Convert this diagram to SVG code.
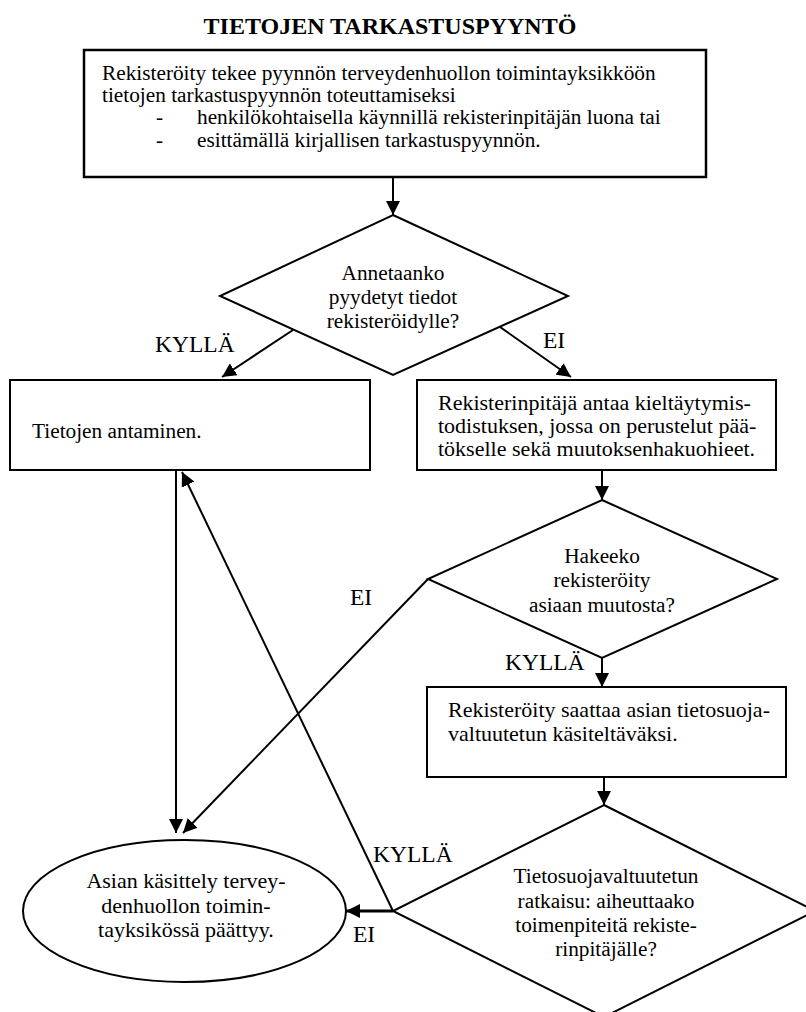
<svg xmlns="http://www.w3.org/2000/svg" width="806" height="1012" viewBox="0 0 806 1012">
  <style>
    .box { fill: #fff; stroke: #000; stroke-width: 2; }
    .shape { fill: #fff; stroke: #000; stroke-width: 2; }
    text { font-family: 'Liberation Serif', 'DejaVu Serif', serif; fill: #000; }
    .txt { font-size: 21.3px; }
    .med { font-size: 22px; }
    .mid { text-anchor: middle; }
    .lbl { font-size: 23.5px; }
    .title { font-size: 24px; font-weight: bold; text-anchor: middle; }
    .conn line { stroke: #000; stroke-width: 2; marker-end: url(#arrow); }
  </style>
  <defs>
    <marker id="arrow" viewBox="0 0 14 14" refX="14" refY="7" markerWidth="14" markerHeight="14" orient="auto" markerUnits="userSpaceOnUse">
      <path d="M0,0 L14,7 L0,14 Z" fill="#000"/>
    </marker>
  </defs>
  <rect width="806" height="1012" fill="#fff"/>

  <text class="title" x="390" y="34">TIETOJEN TARKASTUSPYYNTÖ</text>

  <!-- request box -->
  <g id="request">
    <rect class="box" x="84" y="50" width="622" height="127" style="stroke-width:2.5"/>
    <text class="txt" x="102" y="80">Rekisteröity tekee pyynnön terveydenhuollon toimintayksikköön</text>
    <text class="txt" x="102" y="102">tietojen tarkastuspyynnön toteuttamiseksi</text>
    <text class="txt" x="156" y="124">-</text>
    <text class="txt" x="197" y="124">henkilökohtaisella käynnillä rekisterinpitäjän luona tai</text>
    <text class="txt" x="156" y="147">-</text>
    <text class="txt" x="197" y="147">esittämällä kirjallisen tarkastuspyynnön.</text>
  </g>

  <!-- decision: give the data? -->
  <g id="decision-give">
    <polygon class="shape" points="393,215 568,296 393,375 220,296"/>
    <text class="txt mid" x="393" y="280">Annetaanko</text>
    <text class="txt mid" x="393" y="304">pyydetyt tiedot</text>
    <text class="txt mid" x="393" y="328">rekisteröidylle?</text>
  </g>

  <g id="give-data">
    <rect class="box" x="10" y="380" width="360" height="90"/>
    <text class="txt" x="32" y="438">Tietojen antaminen.</text>
  </g>

  <g id="refusal">
    <rect class="box" x="417" y="380" width="359" height="90"/>
    <text class="med" x="438" y="410">Rekisterinpitäjä antaa kieltäytymis-</text>
    <text class="med" x="438" y="433">todistuksen, jossa on perustelut pää-</text>
    <text class="med" x="438" y="456">tökselle sekä muutoksenhakuohieet.</text>
  </g>

  <g id="decision-appeal">
    <polygon class="shape" points="602,500 777,579 602,658 428,579"/>
    <text class="txt mid" x="602" y="563">Hakeeko</text>
    <text class="txt mid" x="602" y="587">rekisteröity</text>
    <text class="txt mid" x="602" y="612">asiaan muutosta?</text>
  </g>

  <g id="ombudsman">
    <rect class="box" x="427" y="687" width="359" height="90"/>
    <text class="med" x="448" y="717">Rekisteröity saattaa asian tietosuoja-</text>
    <text class="med" x="448" y="741">valtuutetun käsiteltäväksi.</text>
  </g>

  <g id="decision-ruling">
    <polygon class="shape" points="604,805 815,911 604,1017 393,911"/>
    <text class="txt mid" x="606" y="883">Tietosuojavaltuutetun</text>
    <text class="txt mid" x="606" y="908">ratkaisu: aiheuttaako</text>
    <text class="txt mid" x="606" y="932">toimenpiteitä rekiste-</text>
    <text class="txt mid" x="606" y="956">rinpitäjälle?</text>
  </g>

  <g id="end">
    <ellipse class="shape" cx="184.5" cy="911" rx="161.5" ry="71"/>
    <text class="med mid" x="186" y="888">Asian käsittely tervey-</text>
    <text class="med mid" x="186" y="913">denhuollon toimin-</text>
    <text class="med mid" x="186" y="937">tayksikössä päättyy.</text>
  </g>

  <!-- connectors -->
  <g id="connectors" class="conn">
    <line x1="393" y1="177" x2="393" y2="215"/>
    <line x1="293" y1="330" x2="222" y2="377"/>
    <line x1="500" y1="327" x2="571" y2="377"/>
    <line x1="602" y1="470" x2="602" y2="500"/>
    <line x1="602" y1="658" x2="602" y2="687"/>
    <line x1="604" y1="777" x2="604" y2="805"/>
    <line x1="428" y1="579" x2="183" y2="833"/>
    <line x1="176" y1="470" x2="176" y2="833"/>
    <line x1="393" y1="911" x2="182" y2="472"/>
    <line x1="393" y1="911" x2="346" y2="911" style="stroke-width:3"/>
  </g>

  <!-- branch labels -->
  <g id="labels">
    <text class="lbl" x="155" y="352">KYLLÄ</text>
    <text class="lbl" x="543" y="348">EI</text>
    <text class="lbl" x="350" y="605">EI</text>
    <text class="lbl" x="505" y="670">KYLLÄ</text>
    <text class="lbl" x="373" y="862">KYLLÄ</text>
    <text class="lbl" x="353" y="942">EI</text>
  </g>
</svg>
